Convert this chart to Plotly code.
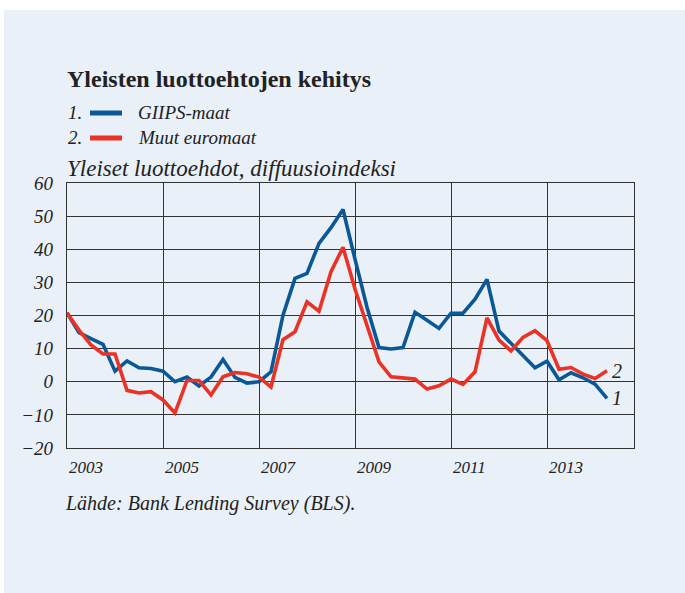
import plotly.graph_objects as go

# Quarterly survey data, 2003Q1 - 2014Q2
years = list(range(2003, 2015))
quarters = [y + q / 4 for y in years for q in range(4)][:46]

giips = [20.8, 14.8, 13.0, 11.3, 3.2, 6.3, 4.2, 4.0, 3.2, 0.0, 1.4, -1.3,
         1.4, 6.7, 1.3, -0.4, 0.0, 3.0, 20.1, 31.2, 32.7, 41.8, 46.5, 52.0,
         37.0, 22.5, 10.3, 9.9, 10.3, 21.0, 18.6, 16.1, 20.7, 20.7, 24.9, 30.9,
         15.3, 11.6, 8.0, 4.2, 6.2, 0.6, 2.7, 1.2, -0.7, -5.0]
muut = [20.8, 15.6, 11.1, 8.4, 8.4, -2.6, -3.4, -3.0, -5.5, -9.4, 0.4, 0.4,
        -4.0, 1.5, 2.8, 2.4, 1.4, -1.6, 12.7, 15.1, 24.1, 21.3, 33.2, 40.6,
        28.0, 17.0, 6.0, 1.5, 1.2, 0.8, -2.2, -1.2, 0.8, -0.8, 3.0, 19.3,
        12.6, 9.3, 13.4, 15.4, 12.4, 3.8, 4.3, 2.3, 1.0, 3.3]

series_names = ["GIIPS-maat", "Muut euromaat"]
series_nums = ["1", "2"]
series_colors = ["#0b5896", "#ea3226"]
year_labels = ["2003", "2005", "2007", "2009", "2011", "2013"]
y_ticks = [-20, -10, 0, 10, 20, 30, 40, 50, 60]

title = "Yleisten luottoehtojen kehitys"
subtitle = "Yleiset luottoehdot, diffuusioindeksi"
source = "Lähde: Bank Lending Survey (BLS)."

W, H = 685, 593
L, R, T, B = 67, 51, 183, 145
PW, PH = W - L - R, H - T - B
PANEL = "#e9f0f8"
INK = "#222222"
FONT = "Liberation Serif"


def px(xp):
    return (xp - L) / PW


def py(yp):
    return (H - B - yp) / PH


fig = go.Figure()
for vals, name, col in zip([giips, muut], series_names, series_colors):
    fig.add_trace(go.Scatter(x=quarters, y=vals, mode="lines", name=name,
                             line=dict(color=col, width=3.6),
                             showlegend=False))

shapes = [
    # white strips around the tinted panel
    dict(type="rect", xref="paper", yref="paper", x0=px(0), x1=px(W),
         y0=py(10), y1=py(0), fillcolor="white", line_width=0, layer="below"),
    dict(type="rect", xref="paper", yref="paper", x0=px(0), x1=px(4),
         y0=py(H), y1=py(0), fillcolor="white", line_width=0, layer="below"),
]

annotations = [
    dict(text=f"<b>{title}</b>", x=px(65), y=py(79), xref="paper",
         yref="paper", xanchor="left", yanchor="middle", showarrow=False,
         font=dict(family=FONT, size=24, color=INK)),
    dict(text=subtitle, x=px(65), y=py(168), xref="paper", yref="paper",
         xanchor="left", yanchor="middle", showarrow=False,
         font=dict(family=FONT, size=23, color=INK, style="italic")),
    dict(text=source, x=px(63), y=py(503), xref="paper", yref="paper",
         xanchor="left", yanchor="middle", showarrow=False,
         font=dict(family=FONT, size=20, color=INK, style="italic")),
]

# legend rows: number, line sample, name
for i, (num, name, col) in enumerate(zip(series_nums, series_names,
                                         series_colors)):
    yy = 112 + i * 25
    annotations.append(dict(text=num + ".", x=px(66), y=py(yy), xref="paper",
                            yref="paper", xanchor="left", yanchor="middle",
                            showarrow=False,
                            font=dict(family=FONT, size=19, color=INK,
                                      style="italic")))
    shapes.append(dict(type="line", xref="paper", yref="paper",
                       x0=px(90), x1=px(122), y0=py(yy + 1), y1=py(yy + 1),
                       line=dict(color=col, width=5)))
    annotations.append(dict(text=name, x=px(136), y=py(yy), xref="paper",
                            yref="paper", xanchor="left", yanchor="middle",
                            showarrow=False,
                            font=dict(family=FONT, size=19, color=INK,
                                      style="italic")))

# series numbers at the line ends
for vals, num in zip([giips, muut], series_nums):
    annotations.append(dict(text=num, x=quarters[-1], y=vals[-1], xref="x",
                            yref="y", xanchor="left", yanchor="middle",
                            xshift=3, showarrow=False,
                            font=dict(family=FONT, size=20, color=INK,
                                      style="italic")))

# year labels start at their gridline
for lab in year_labels:
    annotations.append(dict(text=lab, x=int(lab), y=py(467), xref="x",
                            yref="paper", xanchor="left", yanchor="middle",
                            xshift=0, showarrow=False,
                            font=dict(family=FONT, size=17, color=INK,
                                      style="italic")))

fig.update_layout(
    width=W, height=H,
    margin=dict(l=L, r=R, t=T, b=B, pad=0),
    paper_bgcolor=PANEL, plot_bgcolor=PANEL,
    shapes=shapes, annotations=annotations,
    font=dict(family=FONT, color=INK),
)
fig.update_xaxes(range=[2003, 2003 + PW / 48], tickvals=[2005, 2007, 2009,
                 2011, 2013], showticklabels=False, showgrid=True,
                 gridcolor="#333333", gridwidth=1, showline=True, mirror=True,
                 linecolor="#333333", linewidth=1.2, zeroline=False)
fig.update_yaxes(range=[-20, 60], tickvals=y_ticks,
                 ticktext=[str(v).replace("-", "\u2212") for v in y_ticks],
                 showgrid=True, gridcolor="#333333", gridwidth=1,
                 showline=True, mirror=True, linecolor="#333333",
                 linewidth=1.2, zeroline=False, ticklabelstandoff=9,
                 tickfont=dict(family=FONT, size=19, color=INK,
                               style="italic"))

fig.write_html("out.html")
